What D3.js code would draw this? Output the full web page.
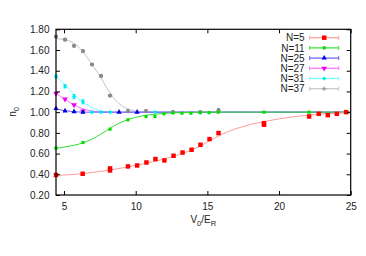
<!DOCTYPE html>
<html>
<head>
<meta charset="utf-8">
<script src="https://cdn.jsdelivr.net/npm/d3@7"></script>
<style>
  body { margin: 0; background: #fff; }
  text { font-family: "Liberation Sans", Arial, sans-serif; }
</style>
</head>
<body>
<div id="chart"></div>
<script>
const n5X = [4.44, 6.3, 8.21, 8.21, 9.46, 10.1, 10.75, 11.38, 12.0, 12.64, 13.27, 13.9, 14.52, 15.15, 15.78, 18.95, 18.95, 22.1, 22.77, 23.4, 24.03, 24.68];
const n5Y = [0.393, 0.405, 0.457, 0.437, 0.476, 0.485, 0.514, 0.547, 0.534, 0.579, 0.61, 0.637, 0.685, 0.74, 0.798, 0.894, 0.878, 0.958, 0.984, 0.971, 0.984, 1.0];
const n11X = [4.44, 6.32, 8.21, 9.46, 10.72, 11.34, 11.97, 12.6, 13.23, 13.85, 14.5, 15.12, 15.75, 18.95, 22.09];
const n11Y = [0.653, 0.707, 0.836, 0.926, 0.958, 0.958, 0.984, 0.993, 0.99, 0.99, 0.995, 0.995, 1.0, 1.0, 1.0];
const n25X = [4.44, 5.07, 5.7, 6.32, 8.84, 10.1];
const n25Y = [1.035, 1.012, 1.005, 1.0, 1.0, 1.0];
const n27X = [4.44, 5.07, 5.7, 6.32];
const n27Y = [1.18, 1.125, 1.07, 1.01];
const n31X = [4.44, 5.07, 5.7, 6.32, 6.95, 7.58, 8.21, 11.37];
const n31Y = [1.345, 1.25, 1.15, 1.1, 1.0, 1.0, 1.0, 1.0];
const n31Err = [0.015, 0.015, 0.02, 0.02, 0.005, 0.005, 0.005, 0.005];
const n37X = [4.44, 5.07, 5.7, 6.32, 6.95, 7.58, 8.21, 9.46, 10.72, 12.6, 14.5, 15.78];
const n37Y = [1.73, 1.7, 1.64, 1.59, 1.46, 1.35, 1.16, 1.01, 1.01, 1.0, 1.0, 1.015];
const n37Err = [0.01, 0.01, 0.01, 0.01, 0.01, 0.01, 0.01, 0.01, 0.01, 0.01, 0.01, 0.02];

// fitted curves
const fitX = [4.44, 5, 5.5, 6, 6.5, 7, 7.5, 8, 8.5, 9, 9.5, 10, 11, 12, 13, 14, 15, 16, 17, 18, 19, 20, 21, 22, 23, 24, 25];
const fit5 = [0.39, 0.393, 0.397, 0.403, 0.41, 0.418, 0.427, 0.437, 0.448, 0.46, 0.472, 0.485, 0.515, 0.548, 0.59, 0.64, 0.71, 0.785, 0.84, 0.88, 0.91, 0.935, 0.955, 0.97, 0.982, 0.99, 0.996];
const fit11 = [0.65, 0.663, 0.675, 0.69, 0.713, 0.743, 0.783, 0.825, 0.868, 0.903, 0.93, 0.95, 0.975, 0.988, 0.995, 0.998, 1, 1, 1, 1, 1, 1, 1, 1, 1, 1, 1];
const fit25 = [1.03, 1.015, 1.007, 1.002, 1, 1, 1, 1, 1, 1, 1, 1, 1, 1, 1, 1, 1, 1, 1, 1, 1, 1, 1, 1, 1, 1, 1];
const fit27 = [1.18, 1.13, 1.085, 1.05, 1.025, 1.01, 1.003, 1, 1, 1, 1, 1, 1, 1, 1, 1, 1, 1, 1, 1, 1, 1, 1, 1, 1, 1, 1];
const fit31 = [1.35, 1.27, 1.2, 1.13, 1.08, 1.04, 1.015, 1.005, 1.001, 1, 1, 1, 1, 1, 1, 1, 1, 1, 1, 1, 1, 1, 1, 1, 1, 1, 1];
const fit37 = [1.71, 1.7, 1.68, 1.63, 1.55, 1.45, 1.35, 1.23, 1.13, 1.065, 1.03, 1.01, 1.0, 1, 1, 1, 1, 1, 1, 1, 1, 1, 1, 1, 1, 1, 1];

const xTicks = [5, 10, 15, 20, 25];
const yTicks = [0.2, 0.4, 0.6, 0.8, 1.0, 1.2, 1.4, 1.6, 1.8];

const series = [
    { name: 'N=37', xs: n37X, ys: n37Y, err: n37Err, fit: fit37, mark: '#8a8a8a', line: '#c4c4c4', sym: d3.symbolCircle, size: 14, rot: 0, legSym: d3.symbolCross, legSize: 10, legMark: '#a0a0a0' },
    { name: 'N=31', xs: n31X, ys: n31Y, err: n31Err, fit: fit31, mark: '#00e8f0', line: '#70ffff', sym: d3.symbolSquare, size: 9, rot: 45 },
    { name: 'N=27', xs: n27X, ys: n27Y, err: null, fit: fit27, mark: '#f000f0', line: '#ff70ff', sym: d3.symbolTriangle, size: 14, rot: 180 },
    { name: 'N=25', xs: n25X, ys: n25Y, err: null, fit: fit25, mark: '#0000e0', line: '#6060ff', sym: d3.symbolTriangle, size: 12, rot: 0 },
    { name: 'N=11', xs: n11X, ys: n11Y, err: null, fit: fit11, mark: '#00e000', line: '#30e030', sym: d3.symbolSquare, size: 10, rot: 0 },
    { name: 'N=5', xs: n5X, ys: n5Y, err: null, fit: fit5, mark: '#ff0000', line: '#ff9a9a', sym: d3.symbolSquare, size: 20, rot: 0 }
];

const W = 366, H = 256;
const svg = d3.select('#chart').append('svg').attr('width', W).attr('height', H);
svg.append('rect').attr('width', W).attr('height', H).attr('fill', '#fff');

const x = d3.scaleLinear().domain([4.44, 25]).range([56, 350.7]);
const y = d3.scaleLinear().domain([0.2, 1.8]).range([195, 29.3]);

// fits first, then points
const line = d3.line().x(d => x(d[0])).y(d => y(d[1])).curve(d3.curveMonotoneX);
series.forEach(s => {
    svg.append('path').datum(fitX.map((v, i) => [v, s.fit[i]]))
        .attr('d', line).attr('fill', 'none').attr('stroke', s.line).attr('stroke-width', 1);
});

series.forEach(s => {
    const g = svg.append('g');
    if (s.err) {
        s.xs.forEach((v, i) => {
            const cx = x(v), y0 = y(s.ys[i] - s.err[i]), y1 = y(s.ys[i] + s.err[i]);
            g.append('line').attr('x1', cx).attr('x2', cx).attr('y1', y0).attr('y2', y1).attr('stroke', s.mark).attr('stroke-width', 1);
            g.append('line').attr('x1', cx - 1.5).attr('x2', cx + 1.5).attr('y1', y0).attr('y2', y0).attr('stroke', s.mark).attr('stroke-width', 1);
            g.append('line').attr('x1', cx - 1.5).attr('x2', cx + 1.5).attr('y1', y1).attr('y2', y1).attr('stroke', s.mark).attr('stroke-width', 1);
        });
    }
    g.selectAll('path').data(s.xs.map((v, i) => [v, s.ys[i]])).enter().append('path')
        .attr('d', d3.symbol().type(s.sym).size(s.size))
        .attr('transform', d => `translate(${x(d[0])},${y(d[1])}) rotate(${s.rot})`)
        .attr('fill', s.mark);
});

// axes, gnuplot style: ticks inside, mirrored
const fmt = d3.format('.2f');
const axB = svg.append('g').attr('transform', 'translate(0,195)')
    .call(d3.axisBottom(x).tickValues(xTicks).tickSizeInner(-4).tickSizeOuter(0).tickPadding(7.5));
const axT = svg.append('g').attr('transform', 'translate(0,29.3)')
    .call(d3.axisTop(x).tickValues(xTicks).tickSizeInner(-4).tickSizeOuter(0).tickFormat(''));
const axL = svg.append('g').attr('transform', 'translate(56,0)')
    .call(d3.axisLeft(y).tickValues(yTicks).tickSizeInner(-4).tickSizeOuter(0).tickPadding(6.5).tickFormat(fmt));
const axR = svg.append('g').attr('transform', 'translate(350.7,0)')
    .call(d3.axisRight(y).tickValues(yTicks).tickSizeInner(-4).tickSizeOuter(0).tickFormat(''));
[axB, axT, axL, axR].forEach(a => {
    a.select('.domain').remove();
    a.selectAll('line').attr('stroke', '#000');
    a.selectAll('text').attr('font-size', 10).attr('fill', '#222').attr('font-family', '"Liberation Sans", Arial, sans-serif');
});
svg.append('rect').attr('x', 56).attr('y', 29.3).attr('width', 350.7 - 56).attr('height', 195 - 29.3)
    .attr('fill', 'none').attr('stroke', '#000').attr('stroke-width', 1.2);

// axis titles
const xl = svg.append('text').attr('x', 203.3).attr('y', 223).attr('text-anchor', 'middle')
    .attr('font-size', 10).attr('fill', '#222');
xl.append('tspan').text('V');
xl.append('tspan').text('0').attr('font-size', 7.5).attr('dy', 2.5);
xl.append('tspan').text('/E').attr('dy', -2.5);
xl.append('tspan').text('R').attr('font-size', 7.5).attr('dy', 2.5);

const yl = svg.append('text').attr('transform', 'translate(16,112) rotate(-90)').attr('text-anchor', 'middle')
    .attr('font-size', 10).attr('fill', '#222');
yl.append('tspan').text('n');
yl.append('tspan').text('0').attr('font-size', 7.5).attr('dy', 2.5);

// legend
const legOrder = series.slice().reverse();
const leg = svg.append('g');
legOrder.forEach((s, i) => {
    const ly = 37.7 + i * 10.2;
    leg.append('text').attr('x', 304.7).attr('y', ly + 3.6).attr('text-anchor', 'end')
        .attr('font-size', 10).attr('fill', '#222').text(s.name);
    leg.append('line').attr('x1', 309.7).attr('x2', 338.7).attr('y1', ly).attr('y2', ly)
        .attr('stroke', s.line).attr('stroke-width', 1.2);
    [309.7, 338.7].forEach(cx => {
        leg.append('line').attr('x1', cx).attr('x2', cx).attr('y1', ly - 2).attr('y2', ly + 2)
            .attr('stroke', s.line).attr('stroke-width', 1);
    });
    leg.append('path').attr('d', d3.symbol().type(s.legSym || s.sym).size(s.legSize || s.size))
        .attr('transform', `translate(324.2,${ly}) rotate(${s.rot})`).attr('fill', s.legMark || s.mark);
});
</script>
</body>
</html>
